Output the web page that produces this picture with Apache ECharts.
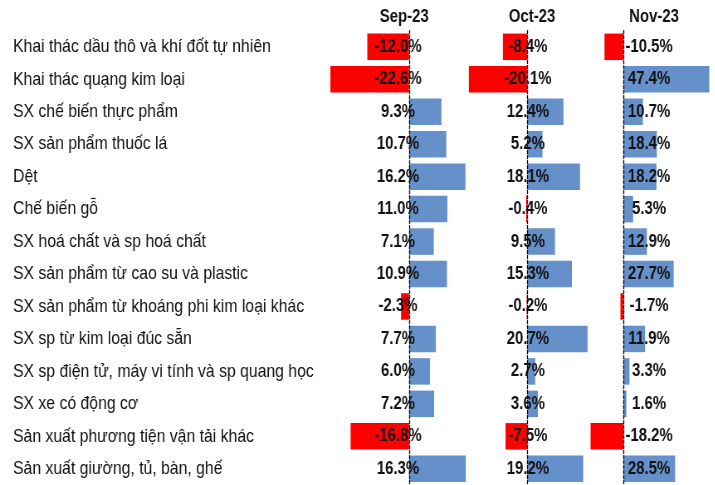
<!DOCTYPE html>
<html><head><meta charset="utf-8">
<script src="https://cdn.jsdelivr.net/npm/echarts@6/dist/echarts.min.js"></script>
<style>
html,body{margin:0;padding:0;background:#fff;overflow:hidden}
#wrap{width:715px;height:485px;overflow:hidden}
#c{width:861.4px;height:485px;transform:scaleX(0.83);transform-origin:0 0}
</style>
</head><body><div id="wrap"><div id="c"></div></div>
<script>
const categories = [
  "Khai thác dầu thô và khí đốt tự nhiên",
  "Khai thác quạng kim loại",
  "SX chế biến thực phẩm",
  "SX sản phẩm thuốc lá",
  "Dệt",
  "Chế biến gỗ",
  "SX hoá chất và sp hoá chất",
  "SX sản phẩm từ cao su và plastic",
  "SX sản phẩm từ khoáng phi kim loại khác",
  "SX sp từ kim loại đúc sẵn",
  "SX sp điện tử, máy vi tính và sp quang học",
  "SX xe có động cơ",
  "Sản xuất phương tiện vận tải khác",
  "Sản xuất giường, tủ, bàn, ghế"
];
const periods = ["Sep-23", "Oct-23", "Nov-23"];
const sep23 = [-12.0, -22.6, 9.3, 10.7, 16.2, 11.0, 7.1, 10.9, -2.3, 7.7, 6.0, 7.2, -16.8, 16.3];
const oct23 = [-8.4, -20.1, 12.4, 5.2, 18.1, -0.4, 9.5, 15.3, -0.2, 20.7, 2.7, 3.6, -7.5, 19.2];
const nov23 = [-10.5, 47.4, 10.7, 18.4, 18.2, 5.3, 12.9, 27.7, -1.7, 11.9, 3.3, 1.6, -18.2, 28.5];
const seriesValues = [sep23, oct23, nov23];

const FONT = '"Liberation Sans", Arial, sans-serif';
const TOP = 30.6, H = 457.8;
// layout in pre-squeeze coordinates (page applies scaleX 0.83)
const panels = [
  {left: 388.0, width: 188.7, min: -25, max: 20, margin: -91.5, tx: 481.9},
  {left: 558.2, width: 154.3, min: -22, max: 22, margin: -77.9, tx: 636.1},
  {left: 707.6, width: 152.7, min: -20, max: 50, margin: -74.3, tx: 783.1}
];
const chart = echarts.init(document.getElementById('c'), null, {renderer: 'canvas'});
const grid = [], xAxis = [], yAxis = [], series = [], title = [];
panels.forEach((p, i) => {
  grid.push({left: p.left, width: p.width, top: TOP, height: H, containLabel: false});
  xAxis.push({type: 'value', gridIndex: i, min: p.min, max: p.max, show: false});
  const vals = seriesValues[i];
  yAxis.push({
    type: 'category', gridIndex: i, data: categories, inverse: true, z: 10,
    axisLine: {show: true, onZero: true, lineStyle: {color: '#000', type: [3, 2], width: 1.3}},
    axisTick: {show: false},
    axisLabel: {
      show: true, align: 'center', margin: p.margin,
      fontFamily: FONT, fontSize: 18, fontWeight: 'bold', color: '#111',
      formatter: (v, idx) => vals[idx].toFixed(1) + '%'
    }
  });
  series.push({
    type: 'bar', xAxisIndex: i, yAxisIndex: i, data: vals, barWidth: 26.5,
    itemStyle: {color: (pr) => pr.value < 0 ? '#ff0000' : '#6690c9'},
    label: {show: false}
  });
  title.push({text: periods[i], left: p.tx, top: 3, textAlign: 'center',
    textStyle: {fontFamily: FONT, fontSize: 18, fontWeight: 'bold', color: '#111'}});
});
// category names axis
yAxis.push({
  type: 'category', gridIndex: 0, data: categories, inverse: true, position: 'left',
  axisLine: {show: false, onZero: false}, axisTick: {show: false},
  axisLabel: {align: 'left', margin: 388.0 - 15.7, fontFamily: FONT, fontSize: 19, color: '#111'}
});
chart.setOption({
  animation: false,
  backgroundColor: '#fff',
  title, grid, xAxis, yAxis, series
});
</script></body></html>
